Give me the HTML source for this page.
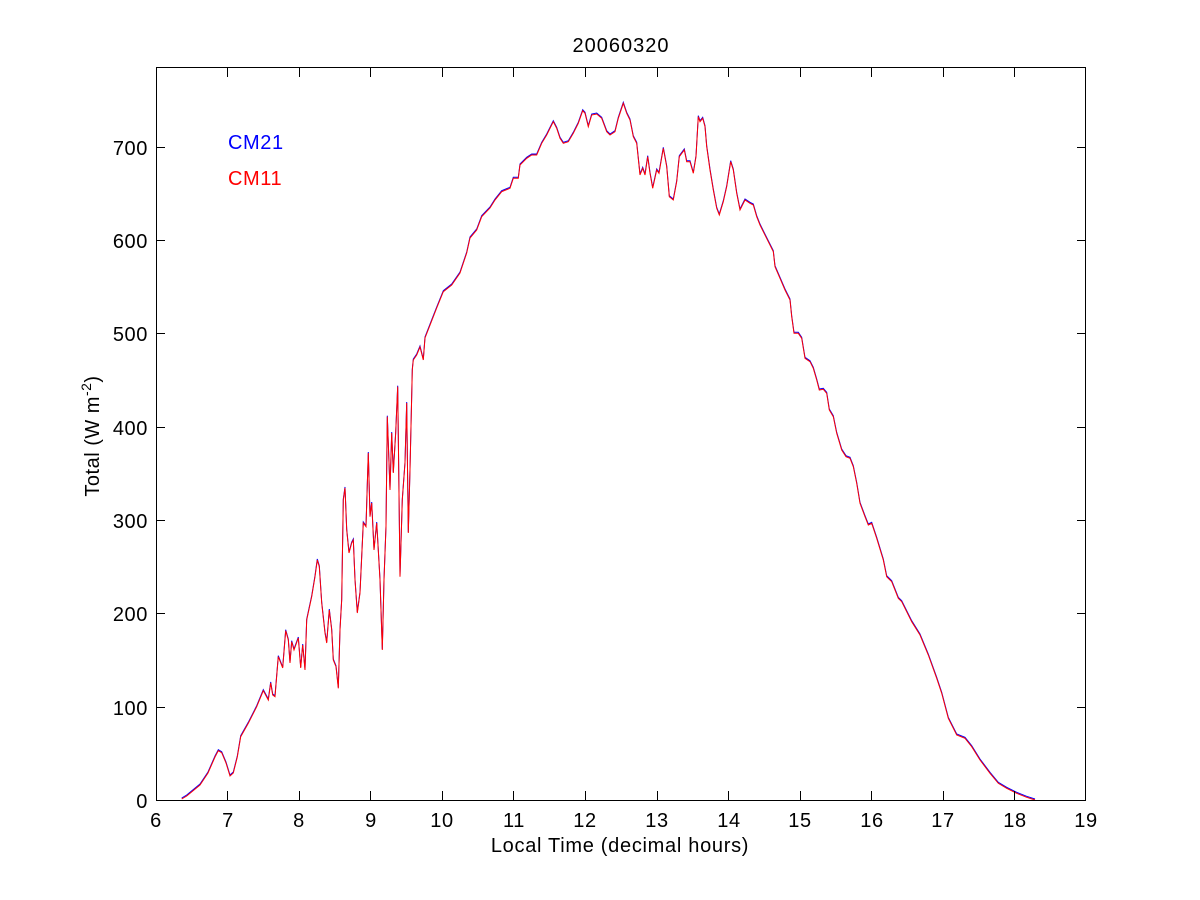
<!DOCTYPE html>
<html>
<head>
<meta charset="utf-8">
<style>
html,body{margin:0;padding:0;background:#fff;}
svg{display:block;}
text{font-family:"Liberation Sans", Arial, sans-serif;fill:#000;}
</style>
</head>
<body>
<svg width="1200" height="900" viewBox="0 0 1200 900" xmlns="http://www.w3.org/2000/svg">
<rect x="0" y="0" width="1200" height="900" fill="#fff"/>

<!-- series -->
<g fill="none" stroke-width="1" stroke-linejoin="miter">
<polyline id="blue" stroke="#0000ff" transform="translate(0,-1)" points="181.7,799 186.7,796 200,785 208,773 215,757 218.3,750.7 221.7,752.7 226,763 230,776 233.3,773 237.3,757 240.7,736.7 248.3,723.3 256.7,706.7 263.3,690.7 268.3,700 270.7,683 272.7,695 275,696.7 278.3,656.7 282.7,668 285.7,630.7 288.3,640 290,663 291.7,641.7 294,650 298.3,638 300.7,668 302.7,645 305,670 306.7,620 311.7,596.7 315,576.7 317.3,560 319.3,566.7 321.7,603 325,633 326.7,643 329.3,610 331.7,630 333.3,660 336,666.7 338.3,688.3 340,630 341.7,600 343.3,500 345,488 346.7,530 349,553 351.7,543 353.3,540 355,580 357.3,613 360,593 363.3,523 366,526.7 368.3,453 370,516.7 371.7,503 374,550 376.7,523 380,580 382.3,650 384,580 386,526.7 387.3,416.7 390,490 391.7,433 393.3,473 395.7,433 397.7,386.7 400,576.7 402.3,500 405,463 406.7,403 408.3,533 410,470 412.3,370 413.3,360 416.7,355 420,347 423.3,360 425,338 433.3,316.7 436.7,308 443.3,291.7 451.7,285 460,273 466.7,253 470,238 476.7,230 481.7,216.7 490,208 495,200 501.7,191.7 510,188.3 513.3,178.3 518.3,178.3 520,165 526.7,158.3 531.7,155 536.7,155 541.7,143.3 546.7,135 553.3,121.7 556.7,128.3 560,138.3 563.3,143.3 568.3,141.7 573.3,133.3 578.3,123.3 582.7,110.7 585,113.3 588.3,126.7 591.7,115 596.7,114 601.7,118.3 606.7,131.7 610,135 615,131.7 618.3,118.3 623.3,103.3 626.7,113.3 630,120 633.3,136.7 636.7,143.3 640,175 642.7,168.3 645,175 647.7,156.7 650,173.3 652.7,188.3 656.7,170 659,173.3 663.3,148.3 666.7,166.7 669.3,196.7 673.3,200 676.7,181.7 679.3,156.7 684.3,150 686.7,161.7 690,161.7 693.3,173.3 696,156.7 698.3,116.7 700,121.7 702.7,118.3 705,126.7 706.7,146.7 710,170 713.3,190 716.7,208.3 719.3,215 723.3,201.7 726.7,186.7 730.7,161.7 733.3,170 736.7,193.3 740,210 745,200 750,203.3 753.3,205 756.7,216.7 760,225 763.3,231.7 768.3,241.7 773.3,251.7 775,266.7 780,278.3 785,290 790,300 791.7,316.7 794,333.3 798.3,333.3 801.7,338.3 805,358.3 810,361.7 813.3,368.3 816.7,380 819.3,390 823.3,389.3 826.7,393.3 829.3,410 833.3,416.7 836.7,433.3 841.7,450 846,456.7 850,458.3 853.3,466.7 856.7,483.3 860,503.3 865,516.7 868.3,525 871.7,523.3 876.7,538.3 883.3,560 886.7,576.7 891.7,581.7 898.3,598.3 901.7,601.7 911.7,621.7 920,635 928.3,655 936.7,678.3 941.7,693.3 948.3,718.3 956.7,735 965,738.3 971.7,746.7 980,760 990,773.3 998.3,783.3 1006.7,788.3 1016.7,793.3 1026.7,797.3 1035,800"/>
<polyline stroke="#ff0000" points="181.7,799 186.7,796 200,785 208,773 215,757 218.3,750.7 221.7,752.7 226,763 230,776 233.3,773 237.3,757 240.7,736.7 248.3,723.3 256.7,706.7 263.3,690.7 268.3,700 270.7,683 272.7,695 275,696.7 278.3,656.7 282.7,668 285.7,630.7 288.3,640 290,663 291.7,641.7 294,650 298.3,638 300.7,668 302.7,645 305,670 306.7,620 311.7,596.7 315,576.7 317.3,560 319.3,566.7 321.7,603 325,633 326.7,643 329.3,610 331.7,630 333.3,660 336,666.7 338.3,688.3 340,630 341.7,600 343.3,500 345,488 346.7,530 349,553 351.7,543 353.3,540 355,580 357.3,613 360,593 363.3,523 366,526.7 368.3,453 370,516.7 371.7,503 374,550 376.7,523 380,580 382.3,650 384,580 386,526.7 387.3,416.7 390,490 391.7,433 393.3,473 395.7,433 397.7,386.7 400,576.7 402.3,500 405,463 406.7,403 408.3,533 410,470 412.3,370 413.3,360 416.7,355 420,347 423.3,360 425,338 433.3,316.7 436.7,308 443.3,291.7 451.7,285 460,273 466.7,253 470,238 476.7,230 481.7,216.7 490,208 495,200 501.7,191.7 510,188.3 513.3,178.3 518.3,178.3 520,165 526.7,158.3 531.7,155 536.7,155 541.7,143.3 546.7,135 553.3,121.7 556.7,128.3 560,138.3 563.3,143.3 568.3,141.7 573.3,133.3 578.3,123.3 582.7,110.7 585,113.3 588.3,126.7 591.7,115 596.7,114 601.7,118.3 606.7,131.7 610,135 615,131.7 618.3,118.3 623.3,103.3 626.7,113.3 630,120 633.3,136.7 636.7,143.3 640,175 642.7,168.3 645,175 647.7,156.7 650,173.3 652.7,188.3 656.7,170 659,173.3 663.3,148.3 666.7,166.7 669.3,196.7 673.3,200 676.7,181.7 679.3,156.7 684.3,150 686.7,161.7 690,161.7 693.3,173.3 696,156.7 698.3,116.7 700,121.7 702.7,118.3 705,126.7 706.7,146.7 710,170 713.3,190 716.7,208.3 719.3,215 723.3,201.7 726.7,186.7 730.7,161.7 733.3,170 736.7,193.3 740,210 745,200 750,203.3 753.3,205 756.7,216.7 760,225 763.3,231.7 768.3,241.7 773.3,251.7 775,266.7 780,278.3 785,290 790,300 791.7,316.7 794,333.3 798.3,333.3 801.7,338.3 805,358.3 810,361.7 813.3,368.3 816.7,380 819.3,390 823.3,389.3 826.7,393.3 829.3,410 833.3,416.7 836.7,433.3 841.7,450 846,456.7 850,458.3 853.3,466.7 856.7,483.3 860,503.3 865,516.7 868.3,525 871.7,523.3 876.7,538.3 883.3,560 886.7,576.7 891.7,581.7 898.3,598.3 901.7,601.7 911.7,621.7 920,635 928.3,655 936.7,678.3 941.7,693.3 948.3,718.3 956.7,735 965,738.3 971.7,746.7 980,760 990,773.3 998.3,783.3 1006.7,788.3 1016.7,793.3 1026.7,797.3 1035,800"/>
</g>

<!-- axes box -->
<g stroke="#000" stroke-width="1" fill="none" shape-rendering="crispEdges">
<rect x="156.5" y="67.5" width="929" height="733"/>
<!-- x ticks bottom and top -->
<path d="M156.5,800v-9M227.5,800v-9M299.5,800v-9M370.5,800v-9M442.5,800v-9M513.5,800v-9M585.5,800v-9M657.5,800v-9M728.5,800v-9M800.5,800v-9M871.5,800v-9M943.5,800v-9M1014.5,800v-9M1085.5,800v-9"/>
<path d="M156.5,68v9M227.5,68v9M299.5,68v9M370.5,68v9M442.5,68v9M513.5,68v9M585.5,68v9M657.5,68v9M728.5,68v9M800.5,68v9M871.5,68v9M943.5,68v9M1014.5,68v9M1085.5,68v9"/>
<!-- y ticks left and right -->
<path d="M156,800.5h9M156,707.5h9M156,613.5h9M156,520.5h9M156,427.5h9M156,333.5h9M156,240.5h9M156,147.5h9"/>
<path d="M1086,800.5h-9M1086,707.5h-9M1086,613.5h-9M1086,520.5h-9M1086,427.5h-9M1086,333.5h-9M1086,240.5h-9M1086,147.5h-9"/>
</g>

<!-- x tick labels -->
<g font-size="20" text-anchor="middle" letter-spacing="0.6">
<text x="156" y="827">6</text>
<text x="228" y="827">7</text>
<text x="299" y="827">8</text>
<text x="371" y="827">9</text>
<text x="442" y="827">10</text>
<text x="514" y="827">11</text>
<text x="585" y="827">12</text>
<text x="657" y="827">13</text>
<text x="729" y="827">14</text>
<text x="800" y="827">15</text>
<text x="872" y="827">16</text>
<text x="943" y="827">17</text>
<text x="1015" y="827">18</text>
<text x="1086" y="827">19</text>
</g>

<!-- y tick labels -->
<g font-size="20" text-anchor="end" letter-spacing="0.6">
<text x="148" y="808">0</text>
<text x="148" y="715">100</text>
<text x="148" y="621">200</text>
<text x="148" y="528">300</text>
<text x="148" y="435">400</text>
<text x="148" y="341">500</text>
<text x="148" y="248">600</text>
<text x="148" y="155">700</text>
</g>

<!-- title -->
<text x="621" y="52" font-size="20" text-anchor="middle" letter-spacing="1">20060320</text>

<!-- x label -->
<text x="620" y="852" font-size="20" text-anchor="middle" letter-spacing="0.7">Local Time (decimal hours)</text>

<!-- y label -->
<text transform="translate(99,436) rotate(-90)" font-size="20" text-anchor="middle" letter-spacing="0.5">Total (W m<tspan font-size="14" dy="-8">-2</tspan><tspan dy="8">)</tspan></text>

<!-- legend -->
<text x="228" y="149" font-size="20" fill="#0000ff" style="fill:#0000ff" letter-spacing="0.6">CM21</text>
<text x="228" y="185" font-size="20" fill="#ff0000" style="fill:#ff0000" letter-spacing="0.6">CM11</text>
</svg>
</body>
</html>
